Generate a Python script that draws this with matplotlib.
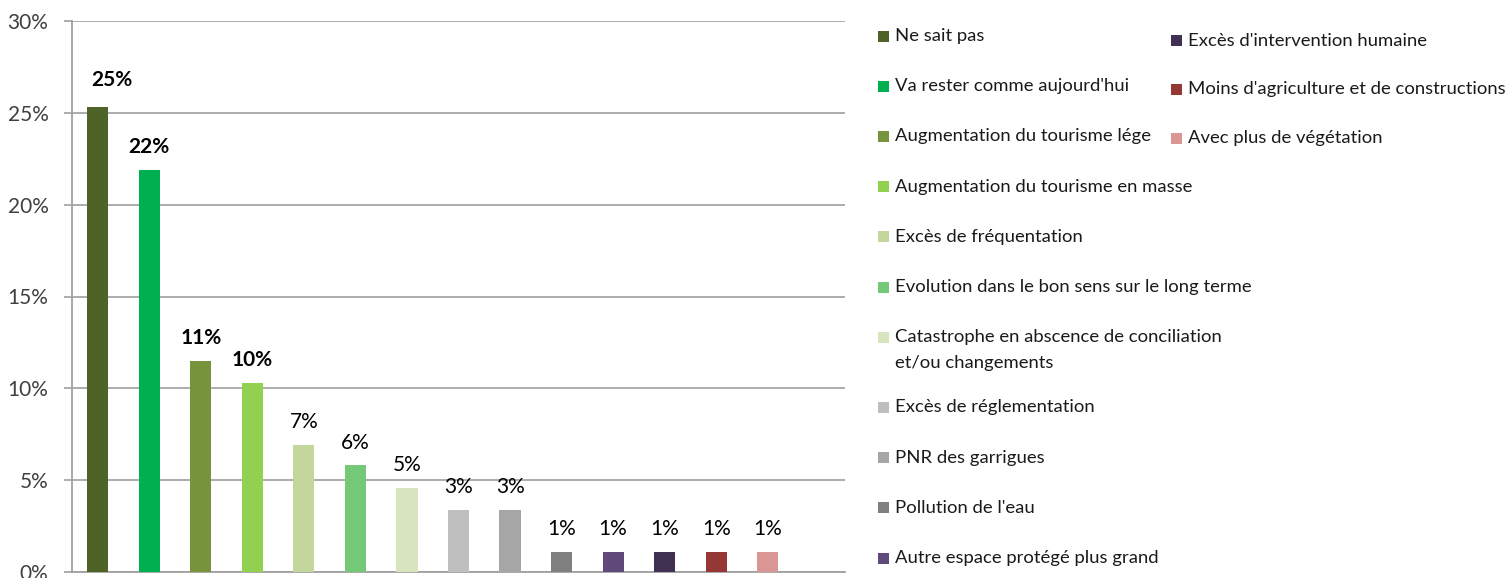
import matplotlib.pyplot as plt
from matplotlib.patches import Rectangle
from matplotlib.transforms import Bbox, TransformedBbox

# data
categories = [
    "Ne sait pas",
    "Va rester comme aujourd'hui",
    "Augmentation du tourisme léger",
    "Augmentation du tourisme en masse",
    "Excès de fréquentation",
    "Evolution dans le bon sens sur le long terme",
    "Catastrophe en abscence de conciliation\net/ou changements",
    "Excès de réglementation",
    "PNR des garrigues",
    "Pollution de l'eau",
    "Autre espace protégé plus grand",
    "Excès d'intervention humaine",
    "Moins d'agriculture et de constructions",
    "Avec plus de végétation",
]
values = [25.3, 21.9, 11.5, 10.3, 6.9, 5.8, 4.6, 3.4, 3.4, 1.1, 1.1, 1.1, 1.1, 1.1]
value_labels = ["25%", "22%", "11%", "10%", "7%", "6%", "5%",
                "3%", "3%", "1%", "1%", "1%", "1%", "1%"]
bold_labels = [True, True, True, True] + [False] * 10
colors = ["#4F6228", "#00B050", "#77933C", "#92D050", "#C3D69B", "#74C978",
          "#D7E4BD", "#BFBFBF", "#A6A6A6", "#808080", "#604A7B", "#403152",
          "#953735", "#D99694"]
y_ticks = [0, 5, 10, 15, 20, 25, 30]

W, H = 1506, 578
plt.rcParams['font.family'] = ['Lato', 'DejaVu Sans']

fig = plt.figure(figsize=(W / 100, H / 100), dpi=100)
ax = fig.add_axes([72 / W, 1 - 572 / H, (845 - 72) / W, (572 - 21) / H])

x = list(range(len(values)))
bars = ax.bar(x, values, width=0.41, color=colors, zorder=3)

for i, (b, lab) in enumerate(zip(bars, value_labels)):
    dx = 10 if i == 0 else 0
    dy = 20 if i == 0 else 16.5
    ax.annotate(lab, (b.get_x() + b.get_width() / 2, b.get_height()),
                xytext=(dx, dy), textcoords='offset points',
                ha='center', va='center', fontsize=15,
                fontweight='bold' if bold_labels[i] else 'normal',
                color='black')

ax.set_xlim(-0.5, 14.5)
ax.set_ylim(0, 30)
ax.set_yticks(y_ticks)
ax.set_yticklabels([f"{t}%" for t in y_ticks])
ax.set_xticks([])
ax.tick_params(axis='y', length=6, width=1.2, color='#A0A0A0', pad=11,
               labelsize=15, labelcolor='#404040')
ax.grid(axis='y', color='#A6A6A6', linewidth=1.3, zorder=0)
for side in ['top', 'right']:
    ax.spines[side].set_visible(False)
for side in ['left', 'bottom']:
    ax.spines[side].set_color('#A0A0A0')
    ax.spines[side].set_linewidth(1.3)


def fx(px):
    return px / W


def fy(py):
    return 1 - py / H


# legend, drawn by hand: eleven entries on the left, three on the right;
# left entries that share a row with a right entry are cut at its edge
clip = TransformedBbox(Bbox.from_extents(0, 0, 1152 / W, 1), fig.transFigure)
sq = 11
line_gap = 26
left_n = 11
right_n = len(categories) - left_n
y_row = 36
for i, (name, col) in enumerate(zip(categories, colors)):
    if i < left_n:
        x0, yc = 878, y_row
        y_row += 50.2 + (line_gap - 6) * name.count("\n")
    else:
        x0, yc = 1171, 40.7 + 48.7 * (i - left_n)
    fig.add_artist(Rectangle((fx(x0), fy(yc + sq / 2)), sq / W, sq / H,
                             transform=fig.transFigure, color=col,
                             linewidth=0))
    nl = name.count("\n")
    t = fig.text(fx(x0 + sq + 6), fy(yc + nl * line_gap / 2), name,
                 ha='left', va='center', fontsize=13.3, color='#1A1A1A',
                 linespacing=1.75)
    if i < right_n:
        t.set_clip_on(True)
        t.set_clip_box(clip)

fig.savefig('out.png', dpi=100)
